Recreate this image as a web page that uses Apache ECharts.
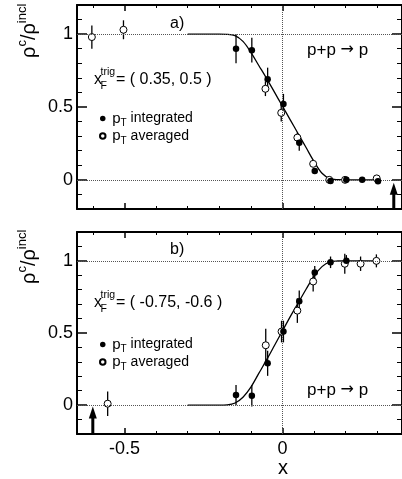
<!DOCTYPE html>
<html>
<head>
<meta charset="utf-8">
<script src="https://cdn.jsdelivr.net/npm/echarts@6/dist/echarts.min.js"></script>
<style>
  html, body { margin: 0; padding: 0; background: #fff; }
  #main { width: 402px; height: 479px; }
</style>
</head>
<body>
<div id="main"></div>
<script>
// panel a) : x_F^trig = (0.35, 0.5)
const xA_int = [-0.147, -0.097, -0.047, 0.003, 0.053, 0.102, 0.152, 0.202, 0.252, 0.302];
const yA_int = [0.90, 0.89, 0.69, 0.52, 0.255, 0.06, -0.007, 0.0, 0.0, -0.01];
const eA_int = [0.10, 0.085, 0.08, 0.07, 0.055, 0.02, 0, 0, 0, 0];
const xA_avg = [-0.603, -0.503, -0.054, -0.004, 0.047, 0.097, 0.148, 0.198, 0.298];
const yA_avg = [0.98, 1.03, 0.625, 0.46, 0.29, 0.11, 0.0, 0.0, 0.01];
const eA_avg = [0.08, 0.065, 0.05, 0.06, 0.035, 0.02, 0, 0, 0];
// panel b) : x_F^trig = (-0.75, -0.6)
const xB_int = [-0.147, -0.097, -0.047, 0.003, 0.053, 0.102, 0.152, 0.202];
const yB_int = [0.07, 0.065, 0.29, 0.51, 0.72, 0.92, 0.99, 1.0];
const eB_int = [0.07, 0.075, 0.087, 0.075, 0.075, 0.045, 0.04, 0.04];
const xB_avg = [-0.553, -0.053, -0.003, 0.047, 0.097, 0.197, 0.247, 0.297];
const yB_avg = [0.01, 0.415, 0.51, 0.655, 0.857, 0.98, 0.98, 1.0];
const eB_avg = [0.085, 0.115, 0.075, 0.085, 0.07, 0.07, 0.05, 0.045];
// fitted curves
const fitX = [-0.3, -0.25, -0.2, -0.175, -0.15, -0.125, -0.1, -0.075, -0.05, -0.025, 0, 0.025, 0.05, 0.075, 0.1, 0.125, 0.15, 0.175, 0.2, 0.25, 0.3];
const fitA = [1, 1, 1, 0.999, 0.99, 0.95, 0.875, 0.785, 0.695, 0.6, 0.505, 0.41, 0.315, 0.22, 0.125, 0.045, 0.008, 0.001, 0, 0, 0];
const fitB = [0, 0, 0, 0.002, 0.015, 0.055, 0.125, 0.22, 0.315, 0.415, 0.515, 0.615, 0.71, 0.805, 0.895, 0.96, 0.993, 0.999, 1, 1, 1];
// arrows: [x, from, to]
const arrowA = [0.352, -0.2, -0.02];
const arrowB = [-0.6, -0.2, -0.01];
const refY = [0, 1];
const refX = [0];

const FONT = 'Liberation Sans, Arial, Helvetica, sans-serif';
const X_MIN = -0.65, X_MAX = 0.378;

const zip = (xs, ys, es) => xs.map((x, i) => es ? [x, ys[i], es[i]] : [x, ys[i]]);

function xAx(grid, pos, labels) {
  return {
    type: 'value', gridIndex: grid, position: pos, min: X_MIN, max: X_MAX, splitNumber: 2,
    axisLine: { onZero: false, lineStyle: { color: '#000', width: 2 } },
    axisTick: { inside: true, length: 6, lineStyle: { color: '#000', width: 1.5 } },
    minorTick: { show: true, splitNumber: 5, length: 3, lineStyle: { color: '#000', width: 1 } },
    splitLine: { show: false },
    axisLabel: { show: labels, showMinLabel: false, showMaxLabel: false, margin: 6,
      fontSize: 18, fontFamily: FONT, color: '#000' }
  };
}
function yAx(grid, pos, labels) {
  return {
    type: 'value', gridIndex: grid, position: pos, min: -0.2, max: 1.2, splitNumber: 3,
    axisLine: { onZero: false, lineStyle: { color: '#000', width: 2 } },
    axisTick: { inside: true, length: 10, lineStyle: { color: '#000', width: 1.5 } },
    minorTick: { show: true, splitNumber: 5, length: 5, lineStyle: { color: '#000', width: 1 } },
    splitLine: { show: false },
    axisLabel: { show: labels, showMinLabel: false, showMaxLabel: false, margin: 4,
      fontSize: 18, fontFamily: FONT, color: '#000' }
  };
}

function errRender(params, api) {
  const x = api.value(0), y = api.value(1), e = api.value(2);
  const p1 = api.coord([x, y - e]), p2 = api.coord([x, y + e]);
  return { type: 'line', shape: { x1: p1[0], y1: p1[1], x2: p2[0], y2: p2[1] },
    style: { stroke: '#000', lineWidth: 1.3 } };
}
function arrowRender(params, api) {
  const x = api.value(0);
  const base = api.coord([x, api.value(1)]);
  const tip = api.coord([x, api.value(2)]);
  return { type: 'group', children: [
    { type: 'line', shape: { x1: base[0], y1: base[1], x2: tip[0], y2: tip[1] + 8 },
      style: { stroke: '#000', lineWidth: 3 } },
    { type: 'polygon', shape: { points: [[tip[0], tip[1]], [tip[0] - 4, tip[1] + 12], [tip[0] + 4, tip[1] + 12]] },
      style: { fill: '#000' } }
  ] };
}

function panelSeries(ax, fit, xi, yi, ei, xa, ya, ea, arrow) {
  const refs = refY.map(v => ({ yAxis: v })).concat(refX.map(v => ({ xAxis: v })));
  return [
    { type: 'line', xAxisIndex: ax, yAxisIndex: ax, data: zip(fitX, fit), showSymbol: false,
      smooth: 0.35, lineStyle: { color: '#000', width: 1.3 }, z: 2,
      markLine: { silent: true, symbol: ['none', 'none'], label: { show: false },
        lineStyle: { color: '#555', width: 1, type: 'dotted' }, data: refs } },
    { type: 'custom', xAxisIndex: ax, yAxisIndex: ax, data: zip(xi, yi, ei), renderItem: errRender, z: 3 },
    { type: 'custom', xAxisIndex: ax, yAxisIndex: ax, data: zip(xa, ya, ea), renderItem: errRender, z: 3 },
    { name: 'pT averaged', type: 'scatter', xAxisIndex: ax, yAxisIndex: ax, data: zip(xa, ya),
      symbolSize: 7, itemStyle: { color: '#fff', borderColor: '#000', borderWidth: 1, opacity: 1 }, z: 4 },
    { name: 'pT integrated', type: 'scatter', xAxisIndex: ax, yAxisIndex: ax, data: zip(xi, yi),
      symbolSize: 6.5, itemStyle: { color: '#000', opacity: 1 }, z: 5 },
    { type: 'custom', xAxisIndex: ax, yAxisIndex: ax, data: [arrow], renderItem: arrowRender, z: 6, clip: false }
  ];
}

const legendRich = {
  p: { fontSize: 15, lineHeight: 20, fontFamily: FONT, color: '#000' },
  t: { fontSize: 10, lineHeight: 10, verticalAlign: 'bottom', fontFamily: FONT, color: '#000' },
  n: { fontSize: 14, lineHeight: 20, fontFamily: FONT, color: '#000' }
};
function legend(top) {
  return {
    orient: 'vertical', left: 99, top: top, padding: 0, itemGap: 0, itemWidth: 9, itemHeight: 5.5,
    icon: 'circle', selectedMode: false, data: ['pT integrated', 'pT averaged'],
    formatter: n => n === 'pT integrated' ? '{p|p}{t|T}{n| integrated}' : '{p|p}{t|T}{n| averaged}',
    textStyle: { rich: legendRich }
  };
}

function txt(x, y, text, size, align) {
  return { type: 'text', x: x, y: y, style: { text: text, fontSize: size, fontFamily: FONT, fill: '#000',
    align: align || 'left', verticalAlign: 'middle' } };
}
function reaction(y) {
  return { type: 'text', x: 307, y: y, style: {
    text: '{a|p+p }{b|\u2192}{a| p}', align: 'left', verticalAlign: 'middle',
    rich: { a: { fontSize: 17, fontFamily: FONT, fill: '#000' },
            b: { fontSize: 16, fontFamily: 'DejaVu Sans', fill: '#000' } } } };
}
function xfLabel(y, range) {
  return [txt(94, y, 'x', 16), txt(100.5, y - 8, 'trig', 10.5), txt(100.5, y + 6, 'F', 10.5), txt(116, y, range, 16)];
}
function yTitle(y) {
  return { type: 'text', x: 29, y: y, rotation: Math.PI / 2, style: {
    text: '{r|ρ}{s|c}{r|/ρ}{s|incl}', align: 'left', verticalAlign: 'middle',
    rich: { r: { fontSize: 20, lineHeight: 26, fontFamily: FONT, fill: '#000' },
            s: { fontSize: 13, lineHeight: 14, verticalAlign: 'top', fontFamily: FONT, fill: '#000' } } } };
}

const chart = echarts.init(document.getElementById('main'), null, { renderer: 'canvas' });
chart.setOption({
  animation: false,
  backgroundColor: '#fff',
  grid: [
    { left: 77, top: 5, width: 325, height: 204, outerBoundsMode: 'none' },
    { left: 77, top: 232, width: 325, height: 202, outerBoundsMode: 'none' }
  ],
  xAxis: [xAx(0, 'bottom', false), xAx(0, 'top', false), xAx(1, 'bottom', true), xAx(1, 'top', false)],
  yAxis: [yAx(0, 'left', true), yAx(0, 'right', false), yAx(1, 'left', true), yAx(1, 'right', false)],
  legend: [legend(111), legend(337)],
  series: panelSeries(0, fitA, xA_int, yA_int, eA_int, xA_avg, yA_avg, eA_avg, arrowA)
    .concat(panelSeries(2, fitB, xB_int, yB_int, eB_int, xB_avg, yB_avg, eB_avg, arrowB)),
  graphic: [
    txt(170, 24, 'a)', 16),
    txt(170, 250, 'b)', 16),
    reaction(50),
    reaction(390),
    txt(283, 468, 'x', 20, 'center'),
    yTitle(58),
    yTitle(284)
  ].concat(xfLabel(80, '= ( 0.35, 0.5 )'), xfLabel(303, '= ( -0.75, -0.6 )'))
});
</script>
</body>
</html>
